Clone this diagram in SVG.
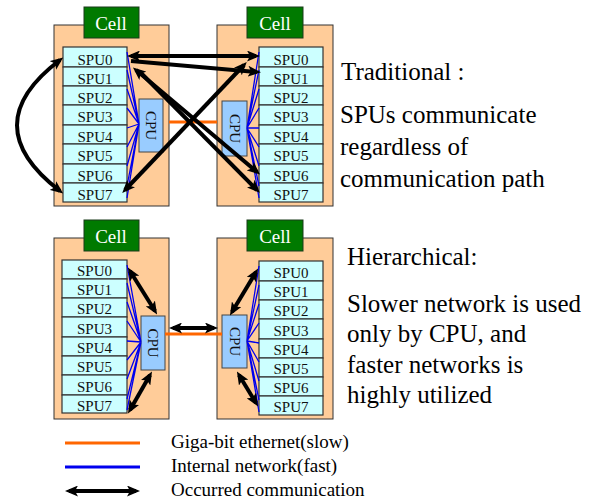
<svg xmlns="http://www.w3.org/2000/svg" width="597" height="500" viewBox="0 0 597 500">
  <defs>
    <style>
      .cellbox { fill: #FFCC99; stroke: #333333; stroke-width: 1; }
      .tag { fill: #007A00; stroke: #1a3a1a; stroke-width: 1; }
      .tagtxt { font-family: "Liberation Serif", "Times New Roman", serif; font-size: 19px; fill: #ffffff; text-anchor: middle; }
      .spu { fill: #CCFFFF; stroke: #333333; stroke-width: 1.2; }
      .spu-txt { font-family: "Liberation Serif", "Times New Roman", serif; font-size: 15px; fill: #111111; text-anchor: middle; }
      .cpu { fill: #99CCFF; stroke: #444444; stroke-width: 1; }
      .cpu-txt { font-family: "Liberation Serif", "Times New Roman", serif; font-size: 15px; fill: #111111; text-anchor: middle; }
      .fan { stroke: #0000EE; stroke-width: 1.3; fill: none; }
      .eth { stroke: #FF6600; stroke-width: 3; fill: none; }
      .comm { stroke: #000000; stroke-width: 4; fill: none; marker-end: url(#head); }
      .both { marker-start: url(#head); }
      .note { font-family: "Liberation Serif", "Times New Roman", serif; font-size: 25px; fill: #000000; }
      .legend { font-family: "Liberation Serif", "Times New Roman", serif; font-size: 19px; fill: #000000; }
    </style>
    <marker id="head" viewBox="0 0 13 11" refX="9" refY="5.5" markerWidth="13" markerHeight="11" markerUnits="userSpaceOnUse" orient="auto-start-reverse">
      <path d="M0,0 L13,5.5 L0,11 L3,5.5 Z" fill="#000000"/>
    </marker>
  </defs>

  <!-- ===== Traditional layout (top) ===== -->
  <g id="cell-top-left">
    <rect class="cellbox" x="54" y="25" width="115" height="181"/>
    <rect class="tag" x="84" y="7" width="55" height="31"/>
    <text class="tagtxt" x="111" y="30">Cell</text>
    <rect class="spu" x="63" y="47" width="64" height="20"/>
    <rect class="spu" x="63" y="67" width="64" height="19"/>
    <rect class="spu" x="63" y="86" width="64" height="19"/>
    <rect class="spu" x="63" y="105" width="64" height="20"/>
    <rect class="spu" x="63" y="125" width="64" height="19"/>
    <rect class="spu" x="63" y="144" width="64" height="20"/>
    <rect class="spu" x="63" y="164" width="64" height="19"/>
    <rect class="spu" x="63" y="183" width="64" height="19"/>
    <text class="spu-txt" x="95" y="65">SPU0</text>
    <text class="spu-txt" x="95" y="84">SPU1</text>
    <text class="spu-txt" x="95" y="103">SPU2</text>
    <text class="spu-txt" x="95" y="122">SPU3</text>
    <text class="spu-txt" x="95" y="142">SPU4</text>
    <text class="spu-txt" x="95" y="161">SPU5</text>
    <text class="spu-txt" x="95" y="181">SPU6</text>
    <text class="spu-txt" x="95" y="200">SPU7</text>
    <rect class="cpu" x="139" y="99" width="24" height="53"/>
    <text class="cpu-txt" transform="translate(151 125.5) rotate(90)" y="5">CPU</text>
  </g>

  <g id="cell-top-right">
    <rect class="cellbox" x="217" y="25" width="116" height="181"/>
    <rect class="tag" x="247" y="7" width="56" height="31"/>
    <text class="tagtxt" x="275" y="30">Cell</text>
    <rect class="spu" x="259" y="47" width="64" height="20"/>
    <rect class="spu" x="259" y="67" width="64" height="19"/>
    <rect class="spu" x="259" y="86" width="64" height="19"/>
    <rect class="spu" x="259" y="105" width="64" height="20"/>
    <rect class="spu" x="259" y="125" width="64" height="19"/>
    <rect class="spu" x="259" y="144" width="64" height="20"/>
    <rect class="spu" x="259" y="164" width="64" height="19"/>
    <rect class="spu" x="259" y="183" width="64" height="19"/>
    <text class="spu-txt" x="291" y="65">SPU0</text>
    <text class="spu-txt" x="291" y="84">SPU1</text>
    <text class="spu-txt" x="291" y="103">SPU2</text>
    <text class="spu-txt" x="291" y="122">SPU3</text>
    <text class="spu-txt" x="291" y="142">SPU4</text>
    <text class="spu-txt" x="291" y="161">SPU5</text>
    <text class="spu-txt" x="291" y="181">SPU6</text>
    <text class="spu-txt" x="291" y="200">SPU7</text>
    <rect class="cpu" x="222" y="101" width="25" height="55"/>
    <text class="cpu-txt" transform="translate(234.5 128.5) rotate(90)" y="5">CPU</text>
  </g>

  <!-- ===== Hierarchical layout (bottom) ===== -->
  <g id="cell-bottom-left">
    <rect class="cellbox" x="54" y="238" width="115" height="181"/>
    <rect class="tag" x="84" y="220" width="55" height="31"/>
    <text class="tagtxt" x="111" y="243">Cell</text>
    <rect class="spu" x="62" y="260" width="65" height="19"/>
    <rect class="spu" x="62" y="279" width="65" height="19"/>
    <rect class="spu" x="62" y="298" width="65" height="19"/>
    <rect class="spu" x="62" y="317" width="65" height="20"/>
    <rect class="spu" x="62" y="337" width="65" height="19"/>
    <rect class="spu" x="62" y="356" width="65" height="19"/>
    <rect class="spu" x="62" y="375" width="65" height="20"/>
    <rect class="spu" x="62" y="395" width="65" height="18"/>
    <text class="spu-txt" x="94.5" y="276">SPU0</text>
    <text class="spu-txt" x="94.5" y="295">SPU1</text>
    <text class="spu-txt" x="94.5" y="314">SPU2</text>
    <text class="spu-txt" x="94.5" y="334">SPU3</text>
    <text class="spu-txt" x="94.5" y="353">SPU4</text>
    <text class="spu-txt" x="94.5" y="372">SPU5</text>
    <text class="spu-txt" x="94.5" y="392">SPU6</text>
    <text class="spu-txt" x="94.5" y="411">SPU7</text>
    <rect class="cpu" x="141" y="316" width="24" height="54"/>
    <text class="cpu-txt" transform="translate(153 343) rotate(90)" y="5">CPU</text>
  </g>

  <g id="cell-bottom-right">
    <rect class="cellbox" x="217" y="238" width="116" height="181"/>
    <rect class="tag" x="247" y="220" width="56" height="31"/>
    <text class="tagtxt" x="275" y="243">Cell</text>
    <rect class="spu" x="259" y="261" width="64" height="20"/>
    <rect class="spu" x="259" y="281" width="64" height="19"/>
    <rect class="spu" x="259" y="300" width="64" height="19"/>
    <rect class="spu" x="259" y="319" width="64" height="20"/>
    <rect class="spu" x="259" y="339" width="64" height="19"/>
    <rect class="spu" x="259" y="358" width="64" height="19"/>
    <rect class="spu" x="259" y="377" width="64" height="19"/>
    <rect class="spu" x="259" y="396" width="64" height="19"/>
    <text class="spu-txt" x="291" y="278">SPU0</text>
    <text class="spu-txt" x="291" y="297">SPU1</text>
    <text class="spu-txt" x="291" y="316">SPU2</text>
    <text class="spu-txt" x="291" y="336">SPU3</text>
    <text class="spu-txt" x="291" y="355">SPU4</text>
    <text class="spu-txt" x="291" y="374">SPU5</text>
    <text class="spu-txt" x="291" y="393">SPU6</text>
    <text class="spu-txt" x="291" y="412">SPU7</text>
    <rect class="cpu" x="222" y="315" width="25" height="53"/>
    <text class="cpu-txt" transform="translate(234.5 341.5) rotate(90)" y="5">CPU</text>
  </g>

  <!-- ===== Connectors ===== -->
  <g id="connectors">
    <!-- internal networks: CPU fanned out to every SPU -->
    <g class="fan">
      <path d="M139,124 L127,52 M139,124 L127,70 M139,124 L127,89 M139,124 L127,108 M139,124 L127,128 M139,124 L127,147 M139,124 L127,166 M139,124 L127,186 M139,124 L127,198"/>
      <path d="M247,128 L259,52 M247,128 L259,70 M247,128 L259,89 M247,128 L259,108 M247,128 L259,128 M247,128 L259,147 M247,128 L259,166 M247,128 L259,186 M247,128 L259,198"/>
      <path d="M141,342 L127,265 M141,342 L127,283 M141,342 L127,302 M141,342 L127,321 M141,342 L127,341 M141,342 L127,360 M141,342 L127,379 M141,342 L127,399 M141,342 L127,410"/>
      <path d="M247,341 L259,266 M247,341 L259,285 M247,341 L259,304 M247,341 L259,323 M247,341 L259,343 M247,341 L259,362 M247,341 L259,381 M247,341 L259,400 M247,341 L259,412"/>
    </g>

    <!-- gigabit ethernet between the two CPUs -->
    <line class="eth" x1="169" y1="122" x2="217" y2="122"/>
    <line class="eth" x1="165" y1="334" x2="222" y2="334"/>

    <!-- traditional: SPUs talk directly across the cells -->
    <path class="comm both" d="M60,60 Q-26,125 60,191"/>
    <line class="comm both" x1="131" y1="56" x2="256" y2="56"/>
    <line class="comm" x1="131" y1="61" x2="257" y2="72"/>
    <line class="comm both" x1="136" y1="70" x2="257" y2="172"/>
    <line class="comm" x1="140" y1="72" x2="257" y2="190"/>
    <line class="comm both" x1="125" y1="190" x2="244" y2="65"/>

    <!-- hierarchical: SPUs go through their own CPU -->
    <line class="comm both" x1="130" y1="271" x2="155" y2="311"/>
    <line class="comm both" x1="130" y1="410" x2="150" y2="375"/>
    <line class="comm both" x1="173" y1="328" x2="214" y2="328"/>
    <line class="comm both" x1="256" y1="272" x2="232" y2="312"/>
    <line class="comm both" x1="256" y1="403" x2="239" y2="375"/>
  </g>

  <!-- ===== Notes ===== -->
  <g id="notes">
    <text class="note" x="341" y="80">Traditional :</text>
    <text class="note" x="340" y="123">SPUs communicate</text>
    <text class="note" x="340" y="155">regardless of</text>
    <text class="note" x="340" y="187">communication path</text>
    <text class="note" x="347" y="265">Hierarchical:</text>
    <text class="note" x="347" y="312">Slower network is used</text>
    <text class="note" x="347" y="342">only by CPU, and</text>
    <text class="note" x="347" y="373">faster networks is</text>
    <text class="note" x="347" y="403">highly utilized</text>
  </g>

  <!-- ===== Legend ===== -->
  <g id="legend">
    <line class="eth" x1="65" y1="443" x2="140" y2="443"/>
    <line x1="65" y1="467" x2="140" y2="467" stroke="#0000EE" stroke-width="3"/>
    <line class="comm both" x1="69" y1="491" x2="136" y2="491"/>
    <text class="legend" x="171" y="448">Giga-bit ethernet(slow)</text>
    <text class="legend" x="171" y="472">Internal network(fast)</text>
    <text class="legend" x="171" y="496">Occurred communication</text>
  </g>
</svg>
